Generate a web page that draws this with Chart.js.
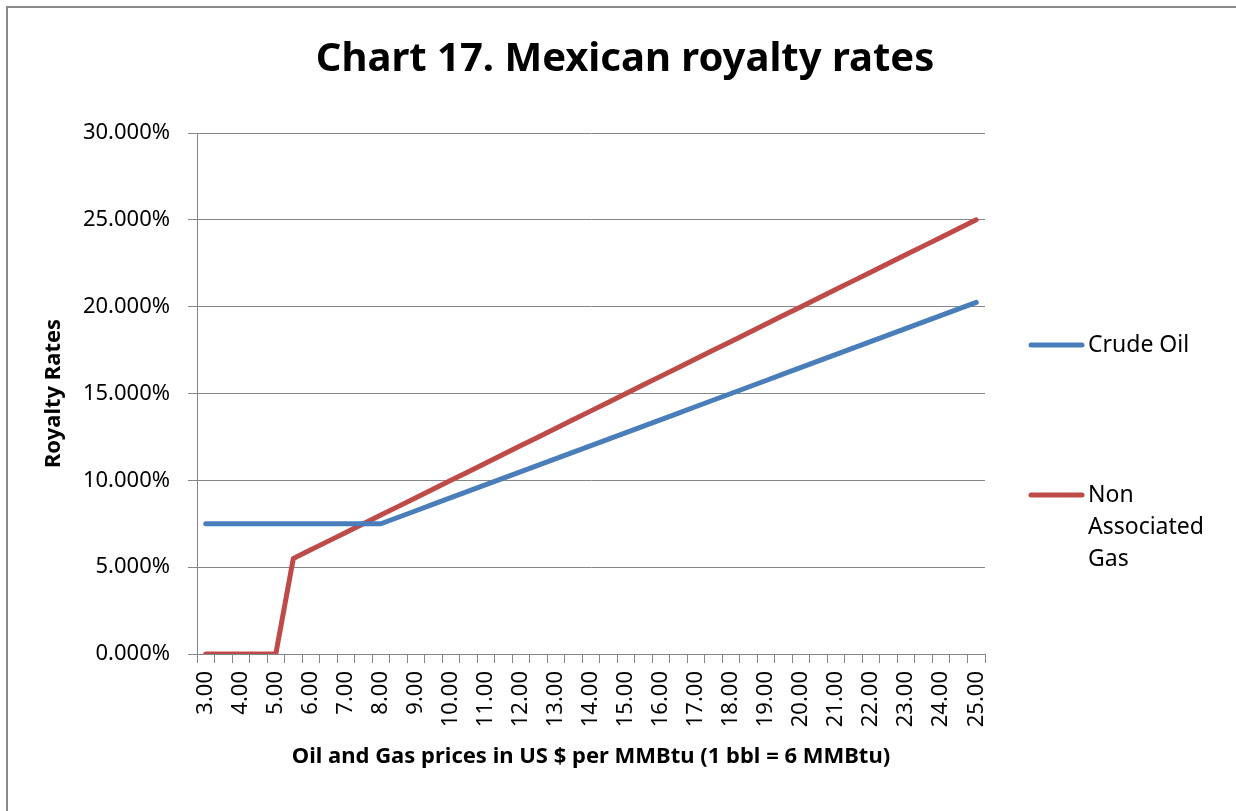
<!DOCTYPE html>
<html>
<head>
<meta charset="utf-8">
<script src="https://cdn.jsdelivr.net/npm/chart.js@4/dist/chart.umd.min.js"></script>
<style>
  html, body { margin: 0; padding: 0; background: #fff; }
</style>
</head>
<body>
<canvas id="royalty_canvas" width="1236" height="811"></canvas>
<script>
const chartTitle = 'Chart 17. Mexican royalty rates'
const xTitle = 'Oil and Gas prices in US $ per MMBtu (1 bbl = 6 MMBtu)'
const yTitle = 'Royalty Rates'

// price categories, half a dollar apart (only whole dollars get a label)
const prices = [
  '3.00', '3.50', '4.00', '4.50', '5.00', '5.50', '6.00', '6.50', '7.00', '7.50',
  '8.00', '8.50', '9.00', '9.50', '10.00', '10.50', '11.00', '11.50', '12.00', '12.50',
  '13.00', '13.50', '14.00', '14.50', '15.00', '15.50', '16.00', '16.50', '17.00', '17.50',
  '18.00', '18.50', '19.00', '19.50', '20.00', '20.50', '21.00', '21.50', '22.00', '22.50',
  '23.00', '23.50', '24.00', '24.50', '25.00'
]

// royalty rates in %
const crudeOil = [
  7.5, 7.5, 7.5, 7.5, 7.5, 7.5, 7.5, 7.5, 7.5, 7.5,
  7.5, 7.875, 8.25, 8.625, 9.0, 9.375, 9.75, 10.125, 10.5, 10.875,
  11.25, 11.625, 12.0, 12.375, 12.75, 13.125, 13.5, 13.875, 14.25, 14.625,
  15.0, 15.375, 15.75, 16.125, 16.5, 16.875, 17.25, 17.625, 18.0, 18.375,
  18.75, 19.125, 19.5, 19.875, 20.25
]

const nonAssociatedGas = [
  0, 0, 0, 0, 0, 5.5, 6.0, 6.5, 7.0, 7.5,
  8.0, 8.5, 9.0, 9.5, 10.0, 10.5, 11.0, 11.5, 12.0, 12.5,
  13.0, 13.5, 14.0, 14.5, 15.0, 15.5, 16.0, 16.5, 17.0, 17.5,
  18.0, 18.5, 19.0, 19.5, 20.0, 20.5, 21.0, 21.5, 22.0, 22.5,
  23.0, 23.5, 24.0, 24.5, 25.0
]

const seriesNames = [['Crude Oil'], ['Non', 'Associated', 'Gas']]
const seriesColors = ['#4a7ebb', '#be4b48']

const FONT = "'Noto Sans', 'Open Sans', sans-serif"
const GRID = '#868686'

// frame, title and the side legend
const decorations = {
  id: 'decorations',
  beforeDraw(chart) {
    const ctx = chart.ctx
    ctx.save()
    ctx.fillStyle = '#fff'
    ctx.fillRect(0, 0, chart.width, chart.height)
    ctx.strokeStyle = '#8a8a8a'
    ctx.lineWidth = 2
    ctx.beginPath()
    ctx.moveTo(7, chart.height)
    ctx.lineTo(7, 7)
    ctx.lineTo(chart.width, 7)
    ctx.stroke()
    ctx.restore()
  },
  afterDraw(chart) {
    const ctx = chart.ctx
    ctx.save()
    ctx.fillStyle = '#000'
    ctx.textAlign = 'center'
    ctx.textBaseline = 'middle'
    ctx.font = `bold 40px ${FONT}`
    ctx.fillText(chartTitle, 625, 60)

    const rows = [345, 495]
    ctx.font = `23px ${FONT}`
    ctx.textAlign = 'left'
    chart.data.datasets.forEach((ds, i) => {
      const y = rows[i]
      ctx.strokeStyle = ds.borderColor
      ctx.lineWidth = 5
      ctx.lineCap = 'round'
      ctx.beginPath()
      ctx.moveTo(1031, y)
      ctx.lineTo(1082, y)
      ctx.stroke()
      seriesNames[i].forEach((line, j) => {
        ctx.fillText(line, 1088, y + j * 32)
      })
    })
    ctx.restore()
  }
}

const ctx = document.getElementById('royalty_canvas').getContext('2d')
const chart = new Chart(ctx, {
  type: 'line',
  data: {
    labels: prices,
    datasets: [{
      label: seriesNames[0].join(' '),
      data: crudeOil,
      borderColor: seriesColors[0],
      backgroundColor: seriesColors[0]
    }, {
      label: seriesNames[1].join(' '),
      data: nonAssociatedGas,
      borderColor: seriesColors[1],
      backgroundColor: seriesColors[1]
    }]
  },
  options: {
    responsive: false,
    animation: false,
    layout: { padding: { top: 133, right: 251, left: 0, bottom: 0 } },
    elements: {
      point: { radius: 0 },
      line: { borderWidth: 5, tension: 0, borderCapStyle: 'round', borderJoinStyle: 'round' }
    },
    plugins: {
      legend: { display: false },
      title: { display: false },
      tooltip: { enabled: false }
    },
    scales: {
      x: {
        type: 'category',
        offset: true,
        afterFit: (s) => { s.height = 157 },
        grid: { offset: true, drawOnChartArea: false, color: GRID, tickLength: 9, tickColor: GRID },
        border: { color: GRID, width: 1 },
        ticks: {
          autoSkip: false,
          minRotation: 90,
          maxRotation: 90,
          padding: 8,
          color: '#000',
          font: { family: FONT, size: 22 },
          callback: (v, i) => (i % 2 === 0 ? prices[i] : '')
        },
        title: {
          display: true,
          text: xTitle,
          color: '#000',
          font: { family: FONT, size: 22, weight: 'bold' },
          padding: { top: 0, bottom: 41 }
        }
      },
      y: {
        min: 0,
        max: 30,
        afterFit: (s) => { s.width = 197 },
        grid: { color: GRID, tickLength: 9, tickColor: GRID },
        border: { color: GRID, width: 1 },
        ticks: {
          stepSize: 5,
          padding: 18,
          color: '#000',
          font: { family: FONT, size: 22 },
          callback: (v) => v.toFixed(3) + '%'
        },
        title: {
          display: true,
          text: yTitle,
          color: '#000',
          font: { family: FONT, size: 22, weight: 'bold' },
          padding: { top: 41, bottom: 0 }
        }
      }
    }
  },
  plugins: [decorations]
})
</script>
</body>
</html>
